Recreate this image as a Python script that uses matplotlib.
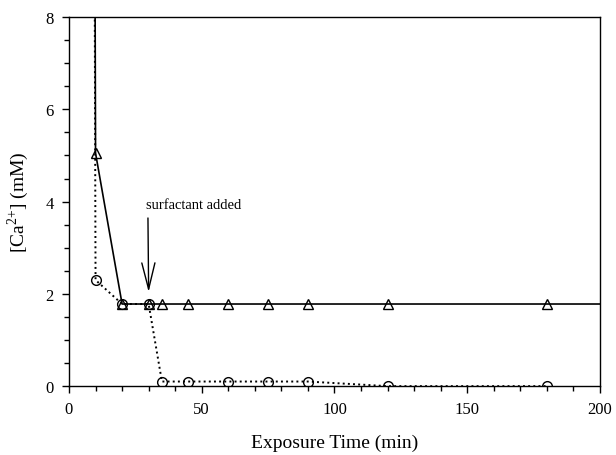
import matplotlib
matplotlib.use("Agg")
import matplotlib.pyplot as plt
from matplotlib.ticker import MultipleLocator

plt.rcParams['font.family'] = ['Liberation Serif', 'DejaVu Serif']
plt.rcParams['mathtext.fontset'] = 'custom'
plt.rcParams['mathtext.rm'] = 'Liberation Serif'

# Data
time_tri = [0, 10, 20, 30, 35, 45, 60, 75, 90, 120, 180, 230]
ca_tri = [200, 5.05, 1.78, 1.78, 1.78, 1.78, 1.78, 1.78, 1.78, 1.78, 1.78, 1.78]
time_circ = [0, 10, 20, 30, 35, 45, 60, 75, 90, 120, 180]
ca_circ = [200, 2.3, 1.78, 1.78, 0.1, 0.1, 0.1, 0.1, 0.1, 0.0, 0.0]
x_ticks = [0, 50, 100, 150, 200]
y_ticks = [0, 2, 4, 6, 8]

fig = plt.figure(figsize=(6.16, 4.56), dpi=100)
ax = fig.add_axes([0.112, 0.151, 0.862, 0.8095])

ax.plot(time_circ, ca_circ, color='black', linestyle=':', linewidth=1.4,
        marker='o', markersize=7, markerfacecolor='none', markeredgecolor='black',
        markeredgewidth=1.0, markevery=list(range(1, len(time_circ))))
ax.plot(time_tri, ca_tri, color='black', linestyle='-', linewidth=1.2,
        marker='^', markersize=7, markerfacecolor='none', markeredgecolor='black',
        markeredgewidth=1.0, markevery=list(range(1, len(time_tri) - 1)))

ax.annotate('surfactant added', xy=(30, 2.04), xytext=(29, 3.86),
            fontsize=10.5, ha='left', va='baseline',
            arrowprops=dict(arrowstyle='->,head_length=1.8,head_width=0.45',
                            color='black', linewidth=1.0, shrinkA=3, shrinkB=0,
                            relpos=(0.02, 0.0)))

ax.set_xlim(0, 200)
ax.set_ylim(0, 8)
ax.set_xticks(x_ticks)
ax.set_yticks(y_ticks)
ax.xaxis.set_minor_locator(MultipleLocator(10))
ax.yaxis.set_minor_locator(MultipleLocator(0.5))
ax.tick_params(which='both', direction='out', width=1.0, labelsize=12)
ax.tick_params(which='major', length=5, pad=6)
ax.tick_params(which='minor', length=3.5)
for s in ax.spines.values():
    s.set_linewidth(1.0)

ax.set_xlabel('Exposure Time (min)', fontsize=14, labelpad=12)
ax.set_ylabel(r'[Ca$^{\mathregular{2{+}}}$] (mM)', fontsize=14, labelpad=10)

fig.savefig('out.png', dpi=100)
